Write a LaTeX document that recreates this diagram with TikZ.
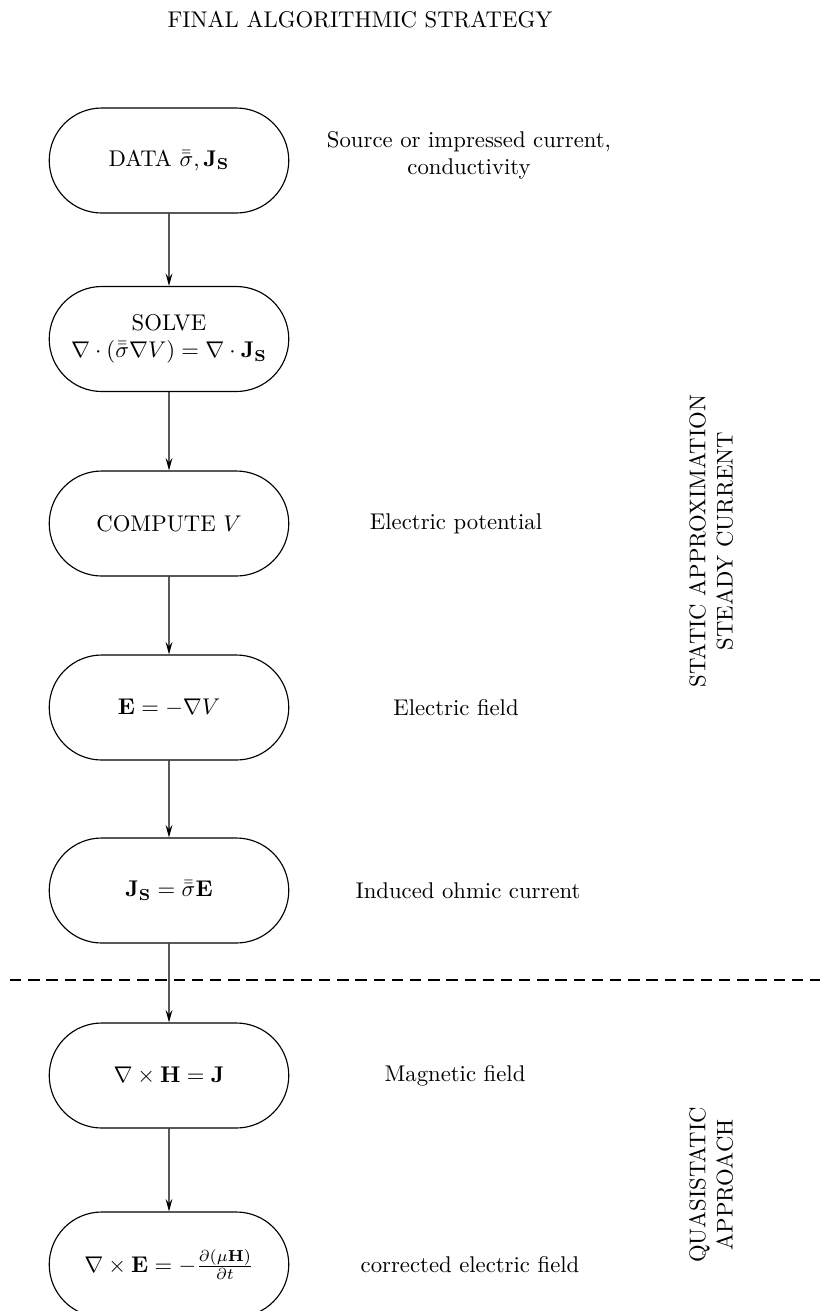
\documentclass[tikz,border=0pt]{standalone}
\usetikzlibrary{shapes.misc,arrows.meta}
\begin{document}
\begin{tikzpicture}[x=0.44pt,y=-0.44pt,
  stepbox/.style={draw,rounded rectangle,minimum width=107.4pt,minimum height=46.2pt,inner sep=1pt,align=center,line width=0.5pt},
  note/.style={align=center},
  sidelabel/.style={rotate=90,align=center},
  flow/.style={-{Stealth[length=5.5pt,width=3pt,inset=2pt]},line width=0.5pt},
  sep/.style={dash pattern=on 5pt off 3pt,line width=0.5pt}]
\useasboundingbox (0,0) rectangle (820,1311);
\node[note] (title) at (360,20) {FINAL ALGORITHMIC STRATEGY};

\node[stepbox] (n1) at (169,160.5) {DATA $\bar{\bar{\sigma}},\mathbf{J_S}$};
\node[stepbox] (n2) at (169,339) {SOLVE\\$\nabla\cdot(\bar{\bar{\sigma}}\nabla V)=\nabla\cdot\mathbf{J_S}$};
\node[stepbox] (n3) at (169,523.5) {COMPUTE $V$};
\node[stepbox] (n4) at (169,707.5) {$\mathbf{E}=-\nabla V$};
\node[stepbox] (n5) at (169,890.5) {$\mathbf{J_S}=\bar{\bar{\sigma}}\mathbf{E}$};
\node[stepbox] (n6) at (169,1075.5) {$\nabla\times\mathbf{H}=\mathbf{J}$};
\node[stepbox] (n7) at (169,1264.5) {$\nabla\times\mathbf{E}=-\frac{\partial(\mu\mathbf{H})}{\partial t}$};

\node[note] (l1) at (469,155) {Source or impressed current,\\conductivity};
\node[note] (l3) at (456,523.5) {Electric potential};
\node[note] (l4) at (456,707.5) {Electric field};
\node[note] (l5) at (468,890.5) {Induced ohmic current};
\node[note] (l6) at (455,1075.5) {Magnetic field};
\node[note] (l7) at (470,1264.5) {corrected electric field};

\node[sidelabel] (s1) at (711,541) {STATIC APPROXIMATION\\STEADY CURRENT};
\node[sidelabel] (s2) at (711,1185) {QUASISTATIC\\APPROACH};

\coordinate (dl) at (10,980);
\coordinate (dr) at (820,980);
\draw[sep] (dl) -- (dr);

\draw[flow] (n1) -- (n2);
\draw[flow] (n2) -- (n3);
\draw[flow] (n3) -- (n4);
\draw[flow] (n4) -- (n5);
\draw[flow] (n5) -- (n6);
\draw[flow] (n6) -- (n7);
\end{tikzpicture}
\end{document}
